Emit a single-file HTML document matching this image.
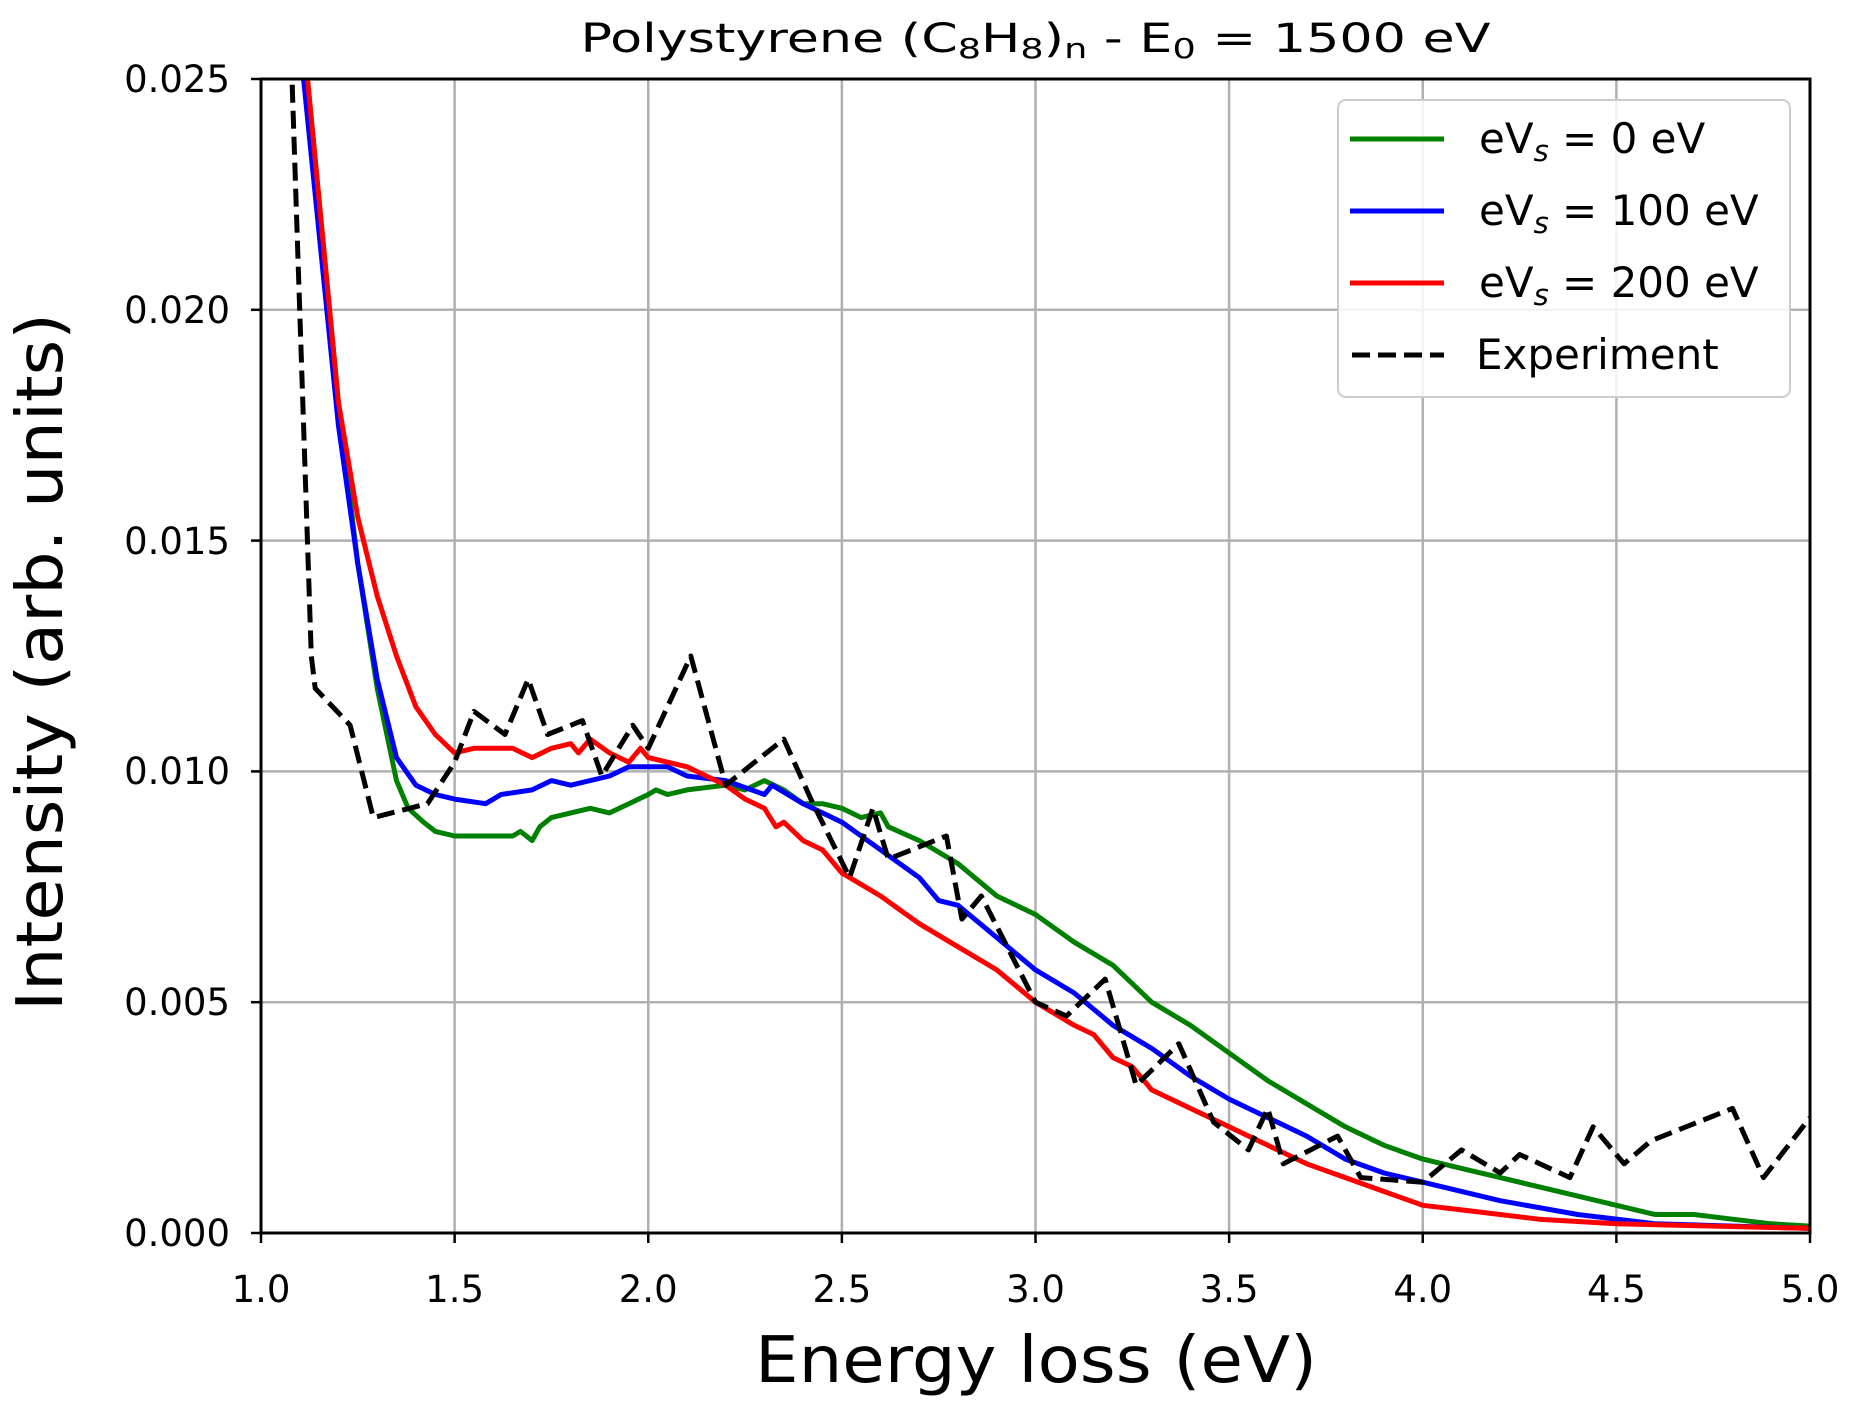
<!DOCTYPE html>
<html><head><meta charset="utf-8"><style>
html,body{margin:0;padding:0;background:#fff;}
svg{display:block;font-family:"DejaVu Sans","Liberation Sans",sans-serif;}
</style></head><body>
<svg id="s" width="1852" height="1410" viewBox="0 0 1852 1410" xmlns="http://www.w3.org/2000/svg">
<defs><clipPath id="c"><rect x="261" y="79" width="1549" height="1154"/></clipPath></defs>
<rect width="1852" height="1410" fill="#fff"/>
<g id="grid" stroke="#b0b0b0" stroke-width="2.5"></g>
<g id="series" clip-path="url(#c)" fill="none" stroke-width="5" stroke-linejoin="round"></g>
<rect x="261" y="79" width="1549" height="1154" fill="none" stroke="#000" stroke-width="3"/>
<g id="ticks" stroke="#000" stroke-width="2.5"></g>
<g font-size="37" fill="#000">
<text x="261" y="1302" text-anchor="middle">1.0</text>
<text x="454.6" y="1302" text-anchor="middle">1.5</text>
<text x="648.2" y="1302" text-anchor="middle">2.0</text>
<text x="841.9" y="1302" text-anchor="middle">2.5</text>
<text x="1035.5" y="1302" text-anchor="middle">3.0</text>
<text x="1229.1" y="1302" text-anchor="middle">3.5</text>
<text x="1422.8" y="1302" text-anchor="middle">4.0</text>
<text x="1616.4" y="1302" text-anchor="middle">4.5</text>
<text x="1810" y="1302" text-anchor="middle">5.0</text>
<text x="230" y="1246" text-anchor="end">0.000</text>
<text x="230" y="1015" text-anchor="end">0.005</text>
<text x="230" y="784" text-anchor="end">0.010</text>
<text x="230" y="554" text-anchor="end">0.015</text>
<text x="230" y="323" text-anchor="end">0.020</text>
<text x="230" y="92" text-anchor="end">0.025</text>
</g>
<text x="1035.5" y="52" font-size="40" text-anchor="middle" textLength="910" lengthAdjust="spacingAndGlyphs">Polystyrene (C<tspan font-size="28" dy="6">8</tspan><tspan dy="-6">H</tspan><tspan font-size="28" dy="6">8</tspan><tspan dy="-6">)</tspan><tspan font-size="28" dy="6">n</tspan><tspan dy="-6"> - E</tspan><tspan font-size="28" dy="6">0</tspan><tspan dy="-6"> = 1500 eV</tspan></text>
<text x="1036" y="1382" font-size="64" text-anchor="middle" textLength="562" lengthAdjust="spacingAndGlyphs">Energy loss (eV)</text>
<text transform="translate(62,662) rotate(-90)" font-size="64" text-anchor="middle" textLength="698" lengthAdjust="spacingAndGlyphs">Intensity (arb. units)</text>
<rect x="1338" y="100" width="452" height="297" rx="8" fill="#fff" fill-opacity="0.85" stroke="#cccccc" stroke-width="2"/>
<line x1="1350" y1="139" x2="1444" y2="139" stroke="#008000" stroke-width="5"/>
<line x1="1350" y1="211" x2="1444" y2="211" stroke="#0000ff" stroke-width="5"/>
<line x1="1350" y1="283" x2="1444" y2="283" stroke="#ff0000" stroke-width="5"/>
<line x1="1352" y1="355" x2="1444" y2="355" stroke="#000" stroke-width="5" stroke-dasharray="18,8"/>
<g font-size="42" fill="#000">
<text x="1479" y="153">eV<tspan font-size="29" font-style="italic" dy="8">s</tspan><tspan dy="-8"> = 0 eV</tspan></text>
<text x="1479" y="225">eV<tspan font-size="29" font-style="italic" dy="8">s</tspan><tspan dy="-8"> = 100 eV</tspan></text>
<text x="1479" y="297">eV<tspan font-size="29" font-style="italic" dy="8">s</tspan><tspan dy="-8"> = 200 eV</tspan></text>
<text x="1476" y="369">Experiment</text>
</g>
</svg>
<script>
var X=function(x){return 261+(x-1)*387.25},Y=function(y){return 1233-y*46160};
var NS="http://www.w3.org/2000/svg";
var g=document.getElementById('grid'),t=document.getElementById('ticks');
for(var i=0;i<=8;i++){var x=X(1+i*0.5);
 var l=document.createElementNS(NS,'line');l.setAttribute('x1',x);l.setAttribute('x2',x);l.setAttribute('y1',79);l.setAttribute('y2',1233);g.appendChild(l);
 var k=document.createElementNS(NS,'line');k.setAttribute('x1',x);k.setAttribute('x2',x);k.setAttribute('y1',1233);k.setAttribute('y2',1243);t.appendChild(k);}
for(var j=0;j<=5;j++){var y=Y(j*0.005);
 var l=document.createElementNS(NS,'line');l.setAttribute('y1',y);l.setAttribute('y2',y);l.setAttribute('x1',261);l.setAttribute('x2',1810);g.appendChild(l);
 var k=document.createElementNS(NS,'line');k.setAttribute('y1',y);k.setAttribute('y2',y);k.setAttribute('x1',251);k.setAttribute('x2',261);t.appendChild(k);}
var G=[1.11,0.026,1.12,0.025,1.2,0.018,1.25,0.0145,1.3,0.0118,1.35,0.0098,1.38,0.0092,1.42,0.0089,1.45,0.0087,1.5,0.0086,1.6,0.0086,1.65,0.0086,1.67,0.0087,1.7,0.0085,1.72,0.0088,1.75,0.009,1.8,0.0091,1.85,0.0092,1.9,0.0091,1.95,0.0093,2.0,0.0095,2.02,0.0096,2.05,0.0095,2.1,0.0096,2.2,0.0097,2.25,0.0096,2.3,0.0098,2.35,0.0096,2.4,0.0093,2.45,0.0093,2.5,0.0092,2.55,0.009,2.6,0.0091,2.62,0.0088,2.7,0.0085,2.8,0.008,2.9,0.0073,3.0,0.0069,3.1,0.0063,3.2,0.0058,3.3,0.005,3.4,0.0045,3.5,0.0039,3.6,0.0033,3.7,0.0028,3.8,0.0023,3.9,0.0019,4.0,0.0016,4.1,0.0014,4.2,0.0012,4.3,0.001,4.4,0.0008,4.5,0.0006,4.6,0.0004,4.7,0.0004,4.8,0.0003,4.9,0.0002,5.0,0.00015];
var B=[1.1,0.026,1.11,0.025,1.2,0.0175,1.25,0.0145,1.3,0.012,1.35,0.0103,1.4,0.0097,1.45,0.0095,1.5,0.0094,1.58,0.0093,1.62,0.0095,1.7,0.0096,1.75,0.0098,1.8,0.0097,1.9,0.0099,1.95,0.0101,2.05,0.0101,2.1,0.0099,2.2,0.0098,2.3,0.0095,2.32,0.0097,2.4,0.0093,2.45,0.0091,2.5,0.0089,2.6,0.0083,2.7,0.0077,2.75,0.0072,2.8,0.0071,2.9,0.0064,3.0,0.0057,3.1,0.0052,3.2,0.0045,3.3,0.004,3.4,0.0034,3.5,0.0029,3.6,0.0025,3.7,0.0021,3.8,0.0016,3.9,0.0013,4.0,0.0011,4.2,0.0007,4.4,0.0004,4.6,0.0002,5.0,0.0001];
var R=[1.11,0.026,1.12,0.025,1.2,0.018,1.25,0.0155,1.3,0.0138,1.35,0.0125,1.4,0.0114,1.45,0.0108,1.5,0.0104,1.55,0.0105,1.6,0.0105,1.65,0.0105,1.7,0.0103,1.75,0.0105,1.8,0.0106,1.82,0.0104,1.85,0.0107,1.9,0.0104,1.95,0.0102,1.98,0.0105,2.0,0.0103,2.05,0.0102,2.1,0.0101,2.15,0.0099,2.2,0.0097,2.25,0.0094,2.3,0.0092,2.33,0.0088,2.35,0.0089,2.4,0.0085,2.45,0.0083,2.5,0.0078,2.6,0.0073,2.7,0.0067,2.8,0.0062,2.9,0.0057,3.0,0.005,3.1,0.0045,3.15,0.0043,3.2,0.0038,3.25,0.0036,3.3,0.0031,3.4,0.0027,3.5,0.0023,3.6,0.0019,3.7,0.0015,3.8,0.0012,3.9,0.0009,4.0,0.0006,4.1,0.0005,4.3,0.0003,4.5,0.0002,5.0,0.0001];
var E=[1.075,0.026,1.08,0.025,1.1,0.02,1.13,0.0125,1.14,0.0118,1.23,0.011,1.29,0.009,1.43,0.0093,1.5,0.0102,1.55,0.0113,1.63,0.0108,1.69,0.012,1.74,0.0108,1.83,0.0111,1.88,0.0099,1.96,0.011,2.0,0.0105,2.11,0.0125,2.2,0.0097,2.35,0.0107,2.42,0.0094,2.52,0.0077,2.58,0.0092,2.62,0.0081,2.77,0.0086,2.81,0.0068,2.86,0.0073,3.0,0.005,3.08,0.0047,3.18,0.0055,3.26,0.0032,3.37,0.0041,3.46,0.0024,3.55,0.0018,3.6,0.0027,3.64,0.0015,3.78,0.0021,3.84,0.0012,4.0,0.0011,4.1,0.0018,4.2,0.0013,4.25,0.0017,4.38,0.0012,4.44,0.0023,4.52,0.0015,4.59,0.002,4.8,0.0027,4.88,0.0012,5.0,0.0025];
var s=document.getElementById('series');
function add(d,c,dash){var p='';for(var i=0;i<d.length;i+=2)p+=X(d[i]).toFixed(1)+','+Y(d[i+1]).toFixed(1)+' ';
 var e=document.createElementNS(NS,'polyline');e.setAttribute('points',p);e.setAttribute('stroke',c);if(dash)e.setAttribute('stroke-dasharray',dash);s.appendChild(e);}
add(G,'#008000');add(B,'#0000ff');add(R,'#ff0000');add(E,'#000','18,8');
</script>
</body></html>
